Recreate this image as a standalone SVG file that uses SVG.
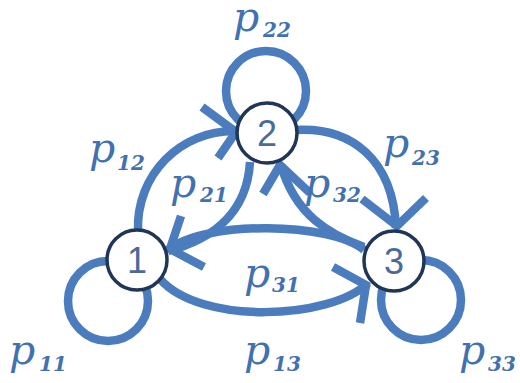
<svg xmlns="http://www.w3.org/2000/svg" width="520" height="383" viewBox="0 0 520 383">
<style>
.e{fill:none;stroke:#4a7cbe;stroke-width:8.5;stroke-linecap:butt}
.a{fill:none;stroke:#4a7cbe;stroke-width:8.5;stroke-linecap:butt;stroke-linejoin:miter}
.n circle{fill:#ffffff;stroke:#1f3657;stroke-width:3.5}
.n text{font-family:"Liberation Sans",Arial,sans-serif;font-size:36px;fill:#4a6a9c;text-anchor:middle}
.p{font-family:"DejaVu Serif",serif;font-style:italic;font-size:41px;fill:#4271b0}
.s{font-family:"DejaVu Serif",serif;font-style:italic;font-weight:bold;font-size:20px;fill:#4271b0}
</style>
<rect width="520" height="383" fill="#ffffff"/>
<g id="connectors">
<circle class="e" cx="266" cy="91" r="40"/>
<circle class="e" cx="108" cy="301" r="40"/>
<circle class="e" cx="421" cy="300" r="40"/>
<path class="e" d="M138,231 C136,175 180,130 236,131"/>
<path class="e" d="M294,130 C352,126 393,160 396,228"/>
<path class="e" d="M250,162 C247,215 210,240 168,251"/>
<path class="e" d="M364,247 C330,235 295,215 281,165"/>
<path class="e" d="M364,250 C330,222 205,220 168,250"/>
<path class="e" d="M160,279 C200,325 330,320 368,283"/>
<path class="a" d="M202,107 L236,132 L218,158"/>
<path class="a" d="M362,199 L397,226 L426,198"/>
<path class="a" d="M263,194 L280,165 L310,193"/>
<path class="a" d="M181,216 L170,249 L204,267"/>
<path class="a" d="M333,267 L366,285 L360,323"/>
</g>
<g id="node1" class="n"><circle cx="137" cy="260" r="30"/><text x="137" y="273">1</text></g>
<g id="node2" class="n"><circle cx="267" cy="133" r="30"/><text x="267" y="146">2</text></g>
<g id="node3" class="n"><circle cx="394" cy="261" r="30"/><text x="394" y="274">3</text></g>
<g id="labels">
<text class="p" x="233" y="31">p</text><text class="s" x="263" y="37">22</text>
<text class="p" x="89" y="162">p</text><text class="s" x="117" y="170">12</text>
<text class="p" x="383" y="157">p</text><text class="s" x="412" y="165">23</text>
<text class="p" x="170" y="197">p</text><text class="s" x="200" y="202">21</text>
<text class="p" x="304" y="197">p</text><text class="s" x="333" y="202">32</text>
<text class="p" x="244" y="287">p</text><text class="s" x="272" y="292">31</text>
<text class="p" x="9" y="364">p</text><text class="s" x="39" y="371">11</text>
<text class="p" x="244" y="364">p</text><text class="s" x="273" y="371">13</text>
<text class="p" x="459" y="364">p</text><text class="s" x="488" y="371">33</text>
</g>
</svg>
